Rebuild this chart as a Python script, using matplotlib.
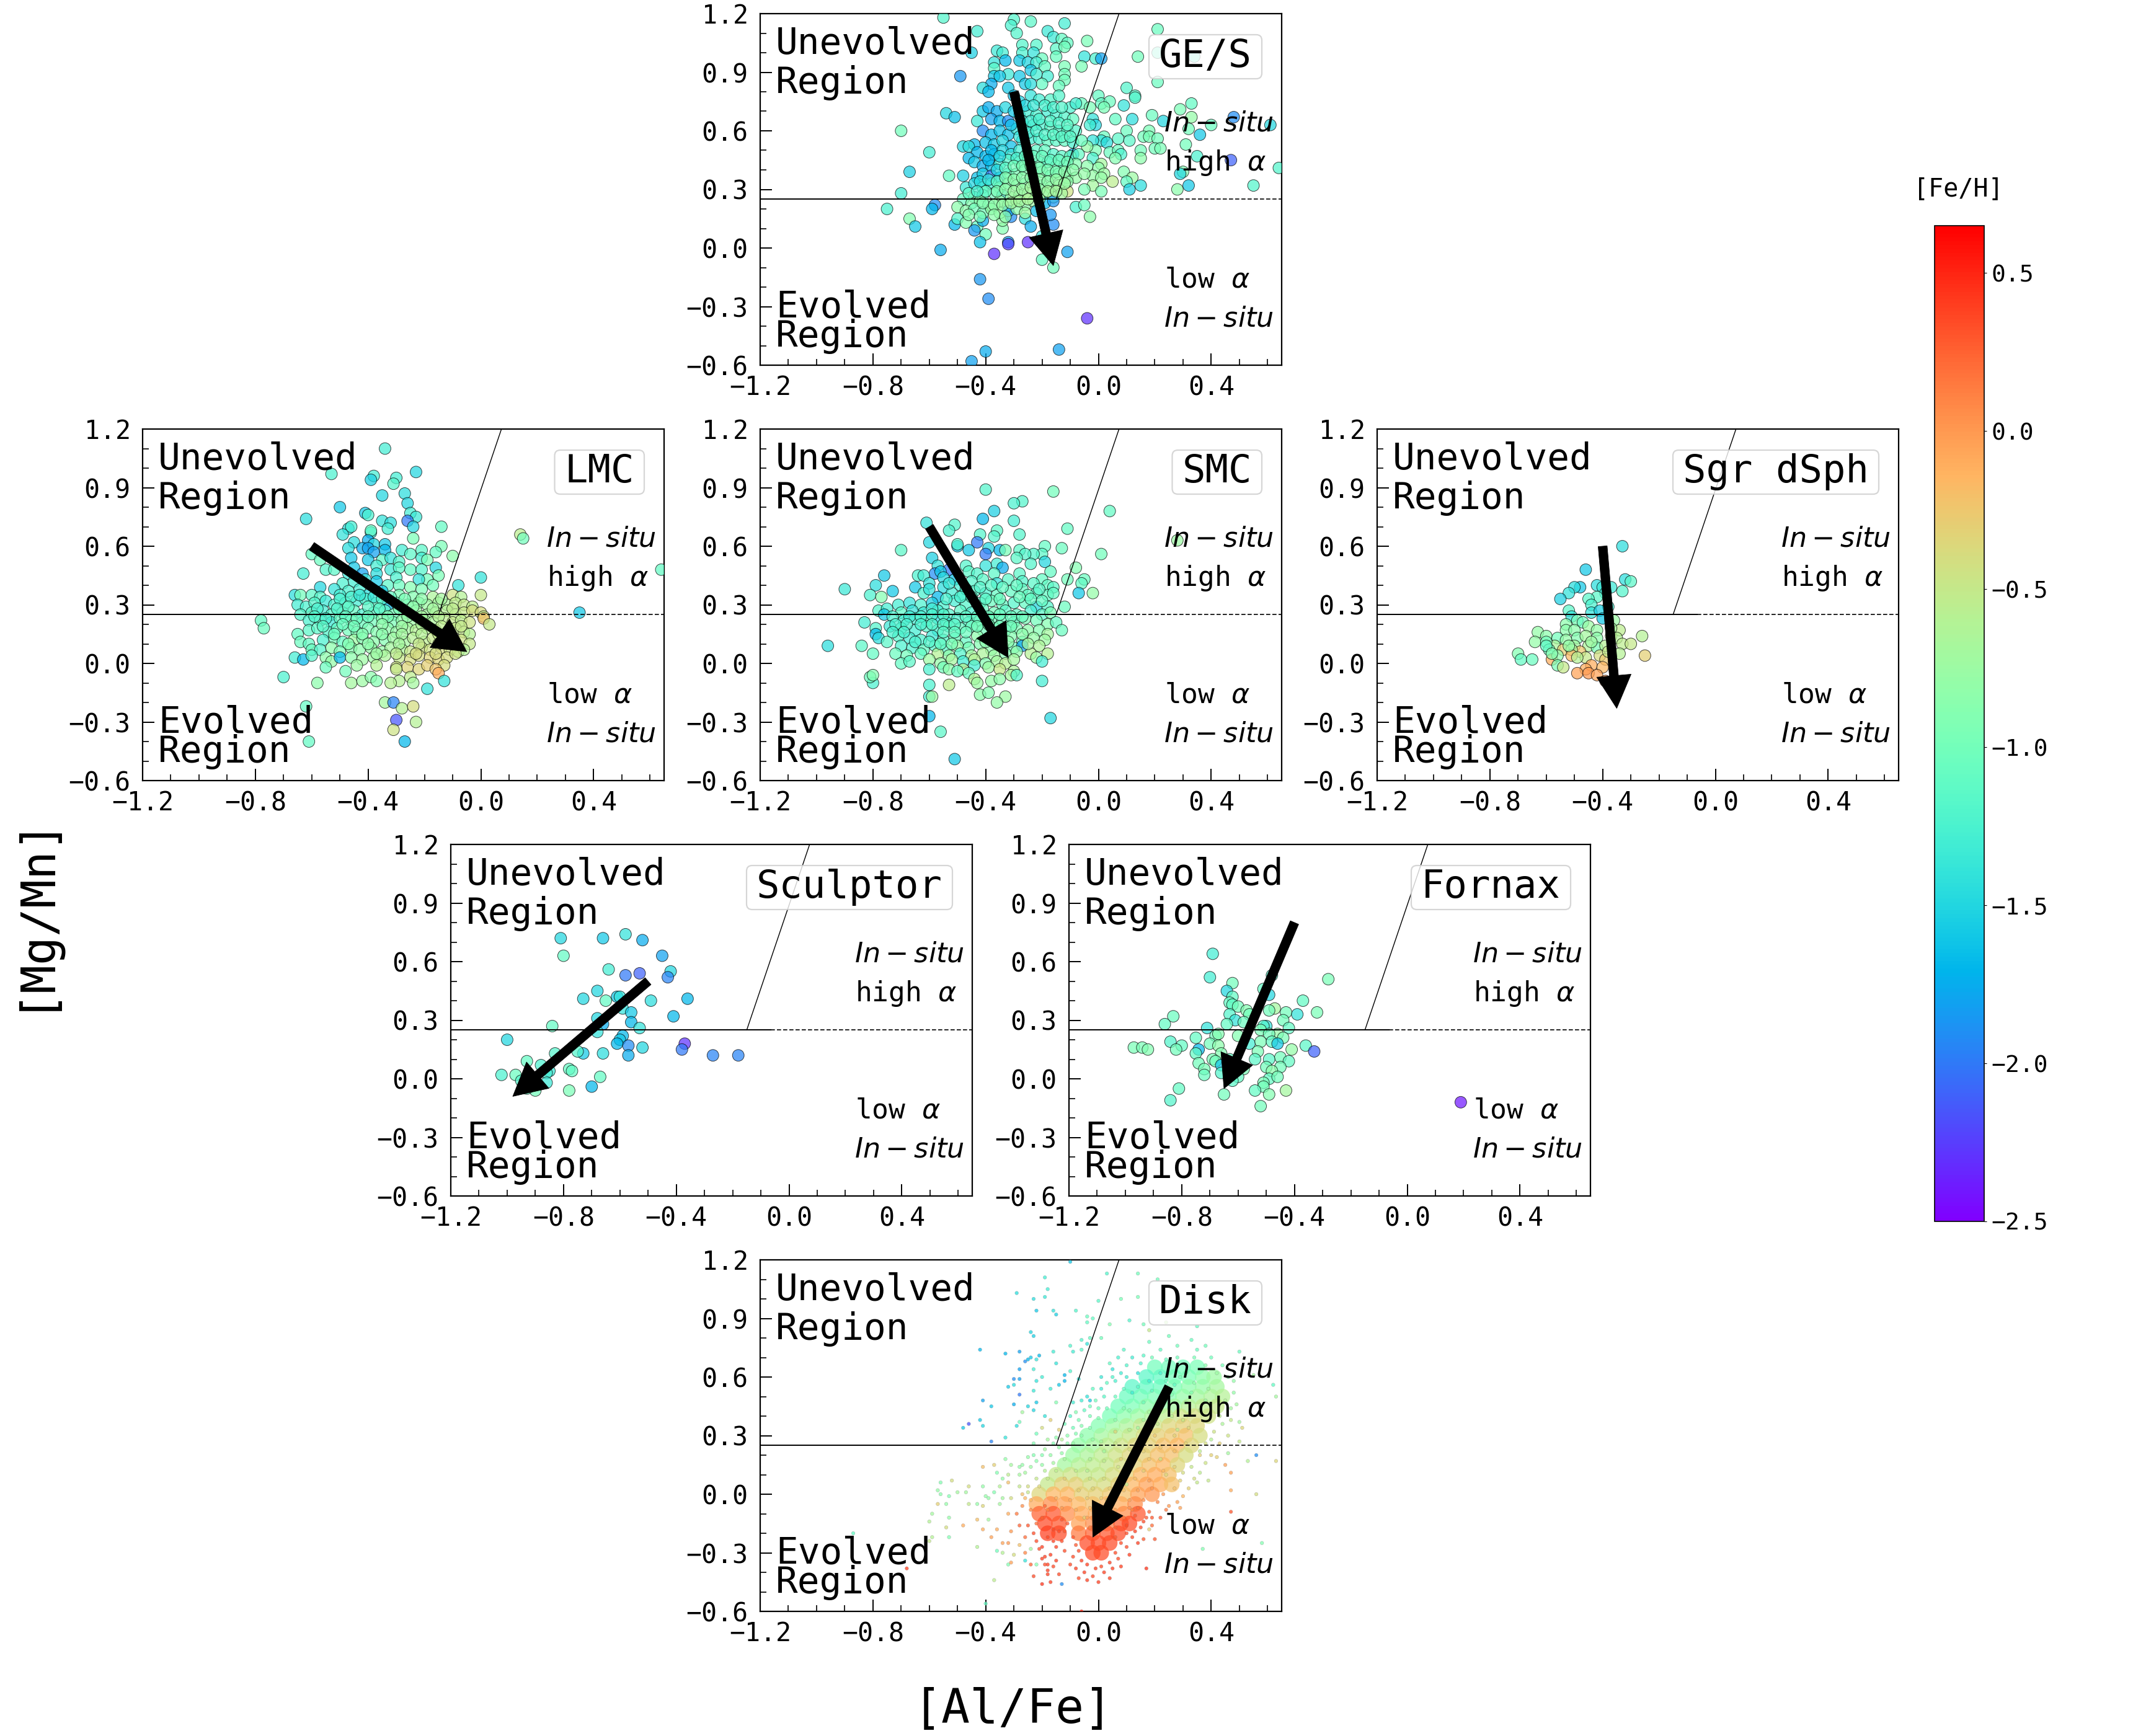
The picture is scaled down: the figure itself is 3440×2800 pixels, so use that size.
import numpy as np
import matplotlib
matplotlib.use('Agg')
import matplotlib.pyplot as plt
from matplotlib.ticker import MultipleLocator
from matplotlib.cm import ScalarMappable
from matplotlib.colors import Normalize
from matplotlib.patches import FancyBboxPatch
from matplotlib.transforms import IdentityTransform

plt.rcParams['font.family'] = ['DejaVu Sans Mono']
plt.rcParams['mathtext.fontset'] = 'dejavusans'

# every star: x=[Al/Fe], y=[Mg/Mn], z=[Fe/H], all in hundredths of a dex
ges = [
-55,118,-120, -30,117,-120, -24,116,-115, -31,114,-125, -12,115,-130, -43,111,-130, -29,110,-120, 21,112,-105,
-18,111,-135, -16,108,-135, -13,107,-110, -4,106,-95, -11,105,-110, -27,104,-120, -22,104,-120, -15,102,-115,
-12,103,-100, -36,101,-135, -34,100,-130, -45,100,-155, -27,100,-125, -23,100,-140, 21,100,-115, 34,98,-120,
14,98,-100, -5,98,-140, -1,97,-125, 1,97,-180, -15,98,-105, -20,97,-105, -37,95,-140, -33,96,-170, -28,96,-160,
-25,95,-150, -22,95,-130, -6,93,-95, -12,93,-95, -37,92,-115, -24,91,-160, -19,93,-110, -12,89,-100, -32,89,-135,
-49,88,-185, -37,88,-160, -35,88,-160, -28,88,-160, -18,88,-130, -22,89,-130, -12,86,-100, -20,84,-110, 21,85,-105,
-38,84,-175, -41,82,-145, -32,82,-160, -26,84,-160, -24,84,-145, -14,83,-105, 10,82,-120, -39,80,-170, 13,78,-115,
13,77,-120, 0,78,-110, 1,74,-110, 4,75,-105, 9,73,-140, 33,74,-110, 2,72,-95, -6,74,-105, -3,72,-95,
29,71,-95, -54,69,-150, -51,67,-165, 19,68,-105, 33,67,-80, 6,66,-110, 12,66,-145, 48,67,-190, 23,65,-150,
40,63,-105, 61,63,-150, -2,66,-140, -1,63,-150, -3,63,-130, -70,60,-100, 32,61,-100, 10,60,-105, 18,60,-95,
36,58,-160, 16,57,-100, 18,57,-95, 21,56,-100, 7,56,-115, 11,55,-115, 2,57,-105, 1,55,-140, 3,54,-145,
-2,55,-140, -60,49,-130, 31,53,-100, 20,51,-100, 22,51,-95, 4,49,-105, 7,50,-105, 8,48,-125, -1,50,-95,
-4,52,-80, 15,50,-100, 15,46,-85, 35,47,-125, 47,45,-210, 64,41,-120, 6,46,-90, -2,46,-125, 1,43,-70,
0,41,-85, -9,48,-170, -67,39,-155, 30,39,-90, 29,38,-150, 9,39,-90, 2,38,-75, 12,36,-75, -2,37,-80,
-53,37,-110, -48,37,-155, 5,34,-55, 1,36,-80, 10,34,-110, 15,32,-145, 55,32,-120, 32,32,-160, 28,30,-85,
-2,32,-70, -5,30,-95, 11,30,-155, 1,29,-95, -70,28,-130, -11,29,-45, -75,20,-125, -58,22,-190, -59,20,-170,
-67,15,-90, -65,11,-160, -51,12,-170, -50,15,-120, -47,13,-90, -43,11,-110, -41,14,-175, -44,9,-185, -40,7,-100,
-34,10,-90, -34,14,-80, -31,16,-190, -26,15,-145, -24,11,-175, -16,12,-190, -17,17,-185, -8,21,-125, -5,22,-105,
-3,16,-85, -42,3,-165, -32,3,-180, -32,2,-225, -25,3,-230, -56,-1,-175, -37,-3,-230, -20,6,-140, -11,-2,-180,
-20,-6,-110, -16,-10,-100, -42,-16,-185, -39,-26,-190, -4,-36,-230, -14,-52,-180, -40,-53,-175, -45,-58,-180,
-41,70,-160, -39,72,-175, -36,70,-175, -33,72,-150, -30,78,-165, -28,75,-155, -24,78,-140, -21,76,-130, -17,76,-120,
-14,78,-120, -10,72,-125, -8,74,-130, -38,66,-180, -35,65,-170, -32,65,-190, -28,68,-150, -25,70,-130, -22,68,-125,
-18,70,-130, -15,68,-125, -12,67,-120, -9,66,-110, -43,65,-135, -41,60,-190, -38,58,-170, -35,60,-165, -32,58,-165,
-29,61,-140, -26,62,-135, -23,63,-120, -20,63,-125, -17,62,-115, -14,60,-120, -11,60,-115, -8,60,-120, -44,53,-170,
-40,54,-165, -37,53,-160, -34,55,-150, -31,52,-165, -27,55,-135, -24,56,-130, -21,56,-125, -18,55,-110, -15,55,-115,
-12,55,-110, -9,54,-125, -6,55,-105, -48,52,-150, -46,52,-145, -43,49,-170, -40,47,-170, -37,48,-165, -34,50,-150,
-31,48,-140, -28,50,-130, -25,49,-120, -22,50,-115, -19,50,-110, -16,48,-120, -13,47,-115, -10,47,-105, -7,48,-110,
-46,46,-170, -44,44,-160, -41,42,-175, -38,42,-165, -35,43,-130, -32,45,-120, -28,44,-100, -25,45,-95, -21,44,-105,
-18,44,-115, -15,42,-100, -12,42,-105, -8,43,-90, -4,42,-85, -43,36,-165, -41,38,-155, -38,37,-200, -35,36,-165,
-32,38,-105, -29,38,-95, -26,40,-90, -23,38,-95, -20,39,-90, -17,37,-95, -14,38,-90, -11,36,-80, -8,36,-80, -5,38,-80,
-47,31,-135, -44,33,-150, -41,31,-120, -38,33,-130, -35,31,-95, -32,33,-90, -29,32,-85, -26,33,-90, -23,34,-85,
-20,32,-90, -17,31,-80, -14,32,-70, -11,34,-85, -44,26,-105, -41,27,-115, -37,28,-100, -34,27,-130, -31,26,-75,
-28,27,-80, -25,28,-70, -22,27,-80, -19,28,-85, -16,26,-75, -13,28,-70, -48,25,-105, -45,23,-90, -42,24,-85, -39,22,-90,
-35,24,-75, -32,22,-85, -29,24,-70, -26,22,-85, -23,24,-75, -19,23,-170, -16,24,-185, -50,21,-85, -47,19,-85,
-44,20,-100, -41,18,-100, -38,20,-80, -35,18,-75, -32,19,-180, -29,20,-85, -26,18,-75, -22,19,-165,
-26,73,-150, -23,73,-135, -19,73,-125, -16,72,-125, -13,72,-120, -30,70,-160, -27,65,-135, -24,65,-130, -21,66,-125,
-17,65,-120, -14,64,-120, -11,63,-115, -31,63,-165, -28,57,-140, -25,59,-130, -22,60,-125, -19,58,-120, -16,58,-115,
-13,57,-115, -10,57,-115, -38,50,-170, -35,47,-150, -29,46,-125, -26,47,-110, -23,47,-105, -20,47,-105, -17,45,-110,
-14,45,-105, -11,44,-100, -39,45,-170, -36,40,-150, -33,41,-115, -30,42,-100, -27,42,-95, -24,42,-90, -21,41,-95,
-18,40,-95, -15,39,-95, -12,39,-85, -9,40,-85, -42,34,-145, -39,35,-140, -36,34,-110, -33,36,-90, -30,35,-85, -27,36,-85,
-24,36,-85, -21,35,-85, -18,34,-85, -15,35,-80, -12,33,-75, -40,29,-110, -36,29,-95, -33,30,-85, -30,29,-75, -27,30,-75,
-24,31,-70, -21,30,-80, -18,29,-70, -15,29,-70, -46,28,-110, -43,29,-125, -41,23,-90, -37,22,-85, -34,22,-80, -31,23,-70,
-28,24,-70, -25,25,-65, -21,25,-75, -46,17,-90, -42,16,-95, -37,17,-85, -33,16,-85,
]

lmc = [
-34,110,-130, -53,97,-125, -23,98,-150, -38,96,-130, -39,94,-155, -30,95,-130, -31,92,-120, -27,87,-145, -35,86,-150,
-26,82,-150, -50,80,-160, -41,77,-160, -40,76,-125, -25,77,-130, -23,75,-135, -62,74,-145, -26,73,-200, -35,73,-140,
-32,72,-145, -33,69,-130, -24,70,-150, -14,70,-110, -47,69,-145, -46,70,-130, -49,66,-140, -39,67,-140, -39,68,-110,
-40,63,-175, -24,64,-95, 14,66,-55, 15,64,-100, -45,62,-145, -47,59,-145, -38,61,-150, -34,61,-160, -14,60,-95,
-42,59,-175, -34,58,-170, -40,59,-180, -38,57,-180, -60,56,-110, -28,58,-130, -25,56,-115, -21,58,-115, -16,57,-110,
-10,55,-85, -57,53,-105, -46,54,-160, -40,53,-160, -35,53,-115, -32,54,-140, -21,54,-130, -19,53,-95, -29,52,-120,
-16,49,-150, -25,48,-110, -21,48,-120, -55,48,-120, -52,48,-115, -45,49,-160, -37,50,-130, -32,48,-135, -29,49,-115,
-63,46,-130, -42,46,-180, -47,46,-135, -37,46,-145, -30,44,-125, -19,43,-100, -15,45,-95, 0,44,-140, -22,43,-140,
-41,43,-140, -45,42,-130, -49,41,-125, -37,42,-160, -33,40,-115, -29,40,-105, -25,39,-90, -17,40,-100, -57,39,-150,
-8,40,-140, -52,38,-140, -43,38,-130, -35,37,-160, -47,37,-125, -21,38,-95,
-66,35,-145, -64,35,-100, -60,35,-115, -57,34,-120, -50,35,-130, -40,35,-145, -29,35,-95, -24,34,-90, -17,34,-65,
-10,35,-45, 0,35,-50, -7,34,-60, -65,30,-130, -62,29,-125, -59,31,-120, -55,32,-135, -52,30,-125, -48,31,-120,
-44,32,-130, -41,33,-125, -37,31,-115, -33,30,-170, -30,31,-110, -26,30,-90, -22,31,-85, -19,30,-75, -15,31,-70,
-12,30,-65, -9,31,-55, -6,30,-50, -3,29,-55, -64,25,-120, -60,26,-115, -56,27,-130, -53,25,-120, -49,26,-115,
-45,27,-110, -42,25,-125, -38,26,-115, -34,27,-110, -31,25,-100, -27,26,-90, -23,27,-75, -19,25,-70, -16,26,-60,
-12,27,-60, -9,25,-55, -6,26,-50, -3,27,-40, 0,26,-40, 1,24,-50, 1,23,-20, -78,22,-110, -77,18,-105,
-61,22,-125, -57,22,-120, -53,21,-135, -50,23,-110, -46,22,-100, -42,21,-105, -38,22,-100, -35,23,-90, -31,21,-95,
-28,22,-85, -24,21,-75, -20,22,-70, -17,21,-65, -13,23,-55, -10,21,-50, -7,22,-55, -4,21,-45, 3,20,-50,
-65,15,-110, -61,17,-115, -58,18,-115, -54,16,-120, -51,18,-110, -47,17,-100, -44,16,-95, -40,18,-95, -37,16,-90,
-33,18,-85, -30,16,-80, -26,18,-70, -23,17,-60, -19,18,-60, -16,17,-55, -12,16,-50, -9,18,-50, -6,16,-50, -4,15,-60,
-64,11,-105, -61,10,-110, -56,12,-125, -52,13,-100, -49,11,-110, -45,12,-75, -42,13,-90, -38,11,-85, -34,12,-90,
-31,13,-75, -27,11,-70, -24,13,-60, -20,11,-55, -17,13,-50, -13,12,-45, -10,11,-50, -7,12,-45, -4,10,-50,
-60,7,-105, -57,7,-120, -53,8,-85, -50,6,-95, -46,8,-90, -43,7,-85, -39,8,-80, -35,6,-80, -32,8,-70, -28,7,-65,
-25,6,-50, -21,8,-45, -18,7,-45, -14,8,-40, -11,7,-45, -8,6,-55, -6,7,-60,
-66,3,-130, -63,2,-170, -60,4,-120, -55,3,-85, -53,1,-80, -50,3,-170, -46,3,-85, -42,2,-75, -38,3,-75, -34,4,-65,
-29,3,-50, -25,2,-40, -22,4,-40, -18,3,-35, -15,2,-35, -12,3,-40,
-55,-2,-105, -48,-4,-100, -44,-1,-75, -37,-1,-60, -30,-2,-45, -26,-2,-35, -22,-3,-35, -19,-1,-30, -13,-1,-40,
-30,-3,-50, -16,-3,-25, -70,-7,-125, -58,-10,-85, -46,-10,-70, -42,-9,-75, -39,-7,-85, -37,-9,-90, -29,-9,-60,
-25,-7,-55, -24,-10,-70, -15,-5,-10, -13,-9,-140, -19,-13,-140, -32,-10,-60, -34,-20,-70, -31,-20,-195, -28,-23,-60,
-24,-22,-40, -62,-22,-110, -30,-29,-215, -31,-34,-45, -27,-40,-170, -61,-40,-110, -23,-30,-60, 35,26,-160, 64,48,-110,
-50,33,-125, -46,34,-125, -43,35,-135, -38,34,-135, -35,33,-120, -32,34,-110, -27,33,-95, -21,33,-85, -14,33,-70,
-58,28,-125, -51,28,-120, -47,29,-115, -40,29,-115, -36,28,-115, -29,28,-95, -24,29,-85, -17,28,-70, -10,28,-55,
-59,24,-120, -55,23,-125, -48,24,-110, -44,23,-105, -40,24,-105, -33,24,-95, -26,24,-80, -21,24,-70, -15,24,-60,
-56,19,-115, -49,20,-105, -45,19,-100, -35,20,-85, -28,19,-75, -21,20,-65, -14,19,-55, -7,19,-50, -52,15,-105,
-42,15,-90, -35,15,-85, -28,15,-70, -21,15,-60, -15,15,-50, -47,10,-90, -40,10,-85, -29,10,-70, -22,10,-50, -15,10,-45,
-37,5,-75, -30,5,-55, -23,5,-40, -16,5,-40, -9,5,-45,
]

smc = [
-40,89,-120, -16,88,-100, -27,83,-120, -30,82,-125, -37,78,-155, 4,78,-110, -41,74,-170, -30,73,-130, -61,72,-140,
-51,71,-120, -53,68,-125, -36,68,-115, -11,69,-110, -42,66,-120, -37,65,-120, -28,66,-120, -43,62,-200, -60,62,-150,
28,63,-75, -50,60,-165, -50,61,-120, -46,58,-160, -13,59,-105, -19,60,-110, -39,59,-150, -35,58,-170, -33,58,-95,
-70,58,-115, -28,58,-115, -40,56,-200, -20,56,-115, -23,56,-120, -26,56,-120, 1,56,-100, -59,54,-155, -29,54,-115,
-19,52,-150, -24,51,-120, -36,51,-130, -34,49,-175, -8,49,-90, -47,50,-120, -57,50,-140, -40,50,-140, -53,48,-200,
-46,47,-115, -58,46,-190, -56,47,-160, -43,46,-120, -17,47,-110, -76,45,-160, -64,45,-125, -62,45,-130, -55,44,-150,
-51,43,-165, -37,46,-115, -28,46,-115, -20,43,-110, -11,43,-100, -5,43,-105, -6,41,-110,
-90,38,-135, -79,40,-145, -73,37,-160, -65,39,-160, -60,41,-140, -55,39,-145, -49,40,-130, -45,42,-120, -41,43,-115,
-36,41,-140, -32,43,-115, -27,42,-120, -23,41,-115, -18,40,-110, -16,39,-115, -81,35,-125, -77,34,-90, -62,36,-125,
-57,34,-170, -52,36,-130, -48,35,-125, -44,37,-120, -40,36,-125, -36,35,-110, -31,37,-110, -27,38,-110, -22,36,-115,
-18,35,-110, -16,36,-110, -7,36,-160, -2,36,-80, -71,30,-130, -67,31,-140, -63,30,-125, -59,31,-155, -55,29,-125,
-51,32,-130, -47,30,-120, -42,31,-120, -38,32,-105, -34,30,-110, -30,31,-120, -26,31,-110, -22,29,-150, -18,29,-120,
-12,29,-105, -78,27,-120, -75,28,-130, -70,26,-115, -66,27,-140, -62,26,-135, -57,27,-130, -53,25,-120, -49,27,-115,
-45,26,-125, -41,28,-110, -37,26,-100, -33,27,-115, -29,25,-110, -24,27,-125, -20,25,-115, -17,26,-95,
-76,25,-160, -73,24,-125, -69,22,-130, -65,23,-130, -61,22,-115, -57,23,-145, -54,21,-135, -50,23,-125, -46,21,-120,
-42,22,-105, -38,23,-100, -34,22,-105, -30,21,-110, -26,23,-95, -22,22,-100, -18,20,-90, -15,21,-110, -83,21,-130,
-79,18,-120, -74,19,-135, -70,18,-115, -65,17,-130, -61,19,-120, -57,17,-125, -53,19,-115, -49,18,-110, -45,19,-105,
-41,17,-100, -37,18,-95, -33,17,-110, -29,18,-95, -25,17,-85, -21,17,-90, -18,15,-70, -13,17,-105, -79,15,-170,
-78,13,-145, -75,11,-115, -71,14,-120, -67,13,-130, -63,12,-125, -59,14,-135, -55,12,-120, -51,13,-105, -47,11,-110,
-43,14,-85, -39,13,-90, -35,12,-100, -31,14,-90, -27,11,-110, -23,13,-80, -19,12,-75, -70,9,-125, -66,8,-125,
-62,7,-110, -58,9,-120, -54,7,-115, -50,9,-80, -46,8,-95, -42,10,-90, -38,7,-85, -34,9,-85, -30,8,-100, -27,9,-180,
-21,9,-65, -96,9,-145, -84,9,-115, -80,5,-110, -72,5,-105, -68,4,-100, -63,5,-110, -57,5,-60, -53,4,-80, -49,5,-120,
-45,4,-70, -41,5,-65, -37,4,-75, -33,5,-90, -29,6,-85, -24,5,-60, -18,5,-60, -70,0,-110, -67,1,-115, -60,2,-75,
-56,0,-80, -52,2,-70, -48,1,-130, -44,2,-60, -40,0,-90, -36,1,-70, -33,0,-60, -30,2,-70, -22,3,-75, -20,1,-130,
-60,-3,-125, -55,-2,-100, -53,-3,-85, -48,-3,-60, -44,-1,-130, -39,-2,-75, -35,-3,-50, -30,-4,-65, -50,-4,-110,
-46,-5,-110, -44,-8,-60, -43,-10,-75, -38,-9,-80, -35,-8,-85, -31,-6,-70, -29,-6,-120, -20,-9,-130, -80,-10,-125,
-81,-7,-105, -80,-6,-90, -60,-11,-125, -53,-11,-55, -60,-17,-130, -59,-17,-75, -42,-16,-85, -39,-15,-90, -33,-17,-75,
-36,-20,-80, -60,-27,-170, -17,-28,-150, -56,-35,-115, -51,-49,-160,
-60,38,-140, -53,41,-135, -47,38,-125, -42,39,-120, -38,40,-115, -34,39,-110, -29,40,-110, -25,35,-110, -21,38,-115,
-59,28,-130, -54,33,-125, -49,34,-125, -45,34,-115, -40,33,-115, -35,33,-105, -28,34,-105, -24,33,-110, -20,32,-110,
-67,24,-130, -63,24,-125, -59,25,-125, -55,25,-120, -47,24,-115, -43,24,-110, -39,24,-105, -35,25,-105, -31,24,-105,
-27,24,-105, -72,20,-125, -68,20,-125, -63,20,-125, -59,20,-120, -55,20,-115, -51,20,-115, -47,16,-105, -43,19,-100,
-39,20,-100, -35,19,-100, -31,19,-100, -73,16,-125, -69,16,-125, -55,16,-115, -51,16,-110, -35,15,-90, -27,15,-85,
-65,11,-125, -60,11,-120, -56,10,-110, -52,10,-95, -40,11,-85, -32,11,-85, -25,10,-70,
]

sgr = [
-33,60,-145, -46,48,-160, -32,43,-145, -30,42,-115, -42,40,-145, -48,39,-160, -50,39,-145, -37,39,-135, -40,39,-135,
-52,36,-140, -55,33,-155, -33,37,-120, -39,36,-135, -42,34,-115, -45,33,-115, -44,30,-125, -38,29,-130, -52,27,-115,
-51,24,-140, -44,26,-140, -41,27,-155, -40,23,-160, -36,22,-75, -49,22,-95, -47,21,-105, -53,20,-85, -45,19,-75,
-53,17,-85, -50,17,-85, -42,17,-80, -34,17,-55, -63,16,-80, -60,14,-85, -26,14,-60, -64,11,-80, -49,13,-90, -42,13,-85,
-56,13,-100, -53,12,-80, -46,14,-70, -37,14,-55, -35,13,-60, -57,9,-65, -60,11,-100, -50,9,-70, -45,9,-65, -42,8,-95,
-33,10,-55, -30,10,-50, -54,7,-30, -59,7,-105, -48,6,-25, -51,7,-65, -39,9,-60, -34,5,-60, -70,5,-90, -69,2,-110,
-65,2,-105, -58,2,-10, -56,4,-85, -51,4,-15, -46,3,-50, -41,4,-40, -39,2,-25, -25,4,-30, -56,-1,-95, -54,-2,-50,
-44,-1,-10, -46,-3,-10, -40,-2,-15, -49,-5,-5, -45,-5,0, -42,-6,-5, -39,-9,0, -60,9,-110, -58,5,-90, -52,9,-80,
-44,11,-75, -38,6,-50, -49,3,-60, -37,18,-70,
]

sculptor = [
-81,72,-150, -80,63,-110, -66,72,-160, -58,74,-140, -52,71,-175, -45,63,-180, -42,55,-150, -43,52,-195, -64,56,-130,
-58,53,-200, -53,54,-210, -68,45,-150, -73,41,-150, -61,42,-160, -60,42,-140, -65,40,-110, -49,40,-145, -36,41,-170,
-59,36,-140, -56,34,-160, -41,32,-170, -68,31,-150, -56,29,-170, -66,28,-175, -53,26,-140, -84,27,-110, -68,24,-140,
-100,20,-150, -59,22,-170, -60,20,-160, -37,18,-230, -38,15,-200, -57,17,-190, -61,18,-170, -52,16,-150, -57,12,-175,
-73,13,-160, -75,14,-120, -66,13,-145, -27,12,-195, -18,12,-195, -83,13,-120, -93,9,-110, -88,7,-125, -85,4,-135,
-86,3,-130, -78,5,-110, -77,4,-110, -102,2,-125, -97,2,-105, -67,1,-110, -70,-4,-170, -78,-6,-95, -90,-6,-100,
-86,-2,-135, -95,-1,-120, -93,-5,-110,
]

fornax = [
-69,64,-130, -70,52,-130, -62,49,-100, -48,53,-120, -51,46,-110, -49,43,-150, -64,45,-150, -62,42,-110, -28,51,-95,
-37,40,-110, -63,39,-110, -62,38,-110, -60,37,-100, -47,36,-70, -49,35,-100, -57,35,-90, -56,33,-100, -63,33,-120,
-61,30,-140, -43,34,-100, -39,33,-140, -32,34,-95, -44,30,-100, -83,32,-105, -86,28,-110, -64,28,-110, -58,29,-105,
-71,26,-140, -50,27,-140, -51,27,-120, -42,26,-110, -52,25,-95, -68,22,-100, -67,23,-90, -60,22,-90, -46,23,-80,
-49,23,-100, -44,21,-95, -75,21,-110, -84,19,-120, -80,17,-110, -82,15,-100, -97,16,-95, -94,16,-95, -92,15,-90,
-70,18,-100, -67,17,-85, -74,15,-170, -56,18,-130, -52,19,-95, -48,19,-110, -46,18,-160, -36,17,-115, -33,14,-210,
-41,15,-80, -75,13,-110, -66,13,-90, -53,14,-95, -45,11,-100, -54,10,-115, -42,9,-110, -49,10,-115, -69,10,-95,
-74,8,-100, -68,9,-100, -63,10,-110, -66,7,-160, -72,5,-95, -58,5,-95, -50,6,-100, -45,6,-100, -72,2,-105, -66,3,-120,
-60,1,-110, -62,-1,-115, -48,4,-85, -49,0,-110, -46,1,-100, -51,-2,-95, -51,-4,-100, -81,-5,-110, -54,-6,-110,
-43,-6,-70, -49,-8,-90, -65,-8,-100, -84,-11,-120, -52,-14,-100, 19,-12,-240,
]

# dense part of the disk, read as [Fe/H] per small patch of the plane
disk_core = [
20,65,-100, 25,65,-100, 30,65,-100, 35,65,-95,
17,60,-115, 22,60,-110, 27,60,-100, 32,60,-95, 37,60,-85, 41,60,-75,
12,55,-115, 17,55,-110, 22,55,-105, 27,55,-95, 32,55,-85, 37,55,-80, 42,55,-70,
10,50,-105, 15,50,-100, 20,50,-95, 25,50,-90, 30,50,-80, 35,50,-70, 40,50,-65, 44,50,-60,
7,45,-100, 12,45,-95, 17,45,-85, 22,45,-80, 27,45,-70, 32,45,-60, 37,45,-55, 42,45,-50,
4,40,-95, 9,40,-85, 14,40,-75, 19,40,-65, 24,40,-55, 29,40,-45, 34,40,-40, 39,40,-45,
0,35,-90, 5,35,-75, 10,35,-65, 15,35,-50, 20,35,-45, 25,35,-35, 30,35,-30, 35,35,-35,
-4,30,-85, 1,30,-70, 6,30,-60, 11,30,-50, 16,30,-40, 21,30,-30, 26,30,-25, 31,30,-20, 36,30,-40,
-7,25,-80, -2,25,-70, 3,25,-55, 8,25,-45, 13,25,-35, 18,25,-30, 23,25,-20, 28,25,-15, 33,25,-35,
-9,20,-75, -4,20,-65, 1,20,-55, 6,20,-45, 11,20,-35, 16,20,-30, 21,20,-20, 26,20,-20, 31,20,-40,
-12,15,-70, -7,15,-60, -2,15,-55, 3,15,-50, 8,15,-40, 13,15,-30, 18,15,-20, 23,15,-15, 28,15,-35,
-15,10,-50, -10,10,-45, -5,10,-50, 0,10,-50, 5,10,-40, 10,10,-30, 15,10,-15, 20,10,-10, 25,10,-20,
-18,5,-50, -13,5,-30, -8,5,-30, -3,5,-40, 2,5,-40, 7,5,-30, 12,5,-15, 17,5,-5, 22,5,-10, 26,5,-20,
-21,0,-35, -16,0,-15, -11,0,-15, -6,0,-30, -1,0,-30, 4,0,-25, 9,0,-20, 14,0,-5, 19,0,0,
-22,-5,-10, -17,-5,5, -12,-5,-5, -7,-5,-15, -2,-5,-20, 3,-5,-15, 8,-5,-10, 13,-5,5,
-21,-10,25, -16,-10,30, -11,-10,5, -6,-10,-10, -1,-10,-10, 4,-10,-5, 9,-10,5, 14,-10,30,
-19,-15,35, -14,-15,30, -7,-15,-5, -2,-15,5, 3,-15,15, 8,-15,30, 11,-15,35,
-18,-20,40, -14,-20,35, -7,-20,15, -2,-20,25, 3,-20,30, 7,-20,35,
-4,-25,35, 0,-25,35, 4,-25,35,
-2,-30,35, 1,-30,35,
]

disk = [
-10,119,-160, -19,111,-130, 3,113,-120, 14,113,-100, -29,103,-145, -18,105,-130, -23,100,-145, -19,101,-135, 0,99,-115,
-22,94,-160, -16,94,-140, -15,92,-155, -8,94,-120, -4,91,-105, -2,90,-110, -4,88,-110, 8,100,-95, 14,101,-95, 21,110,-100,
4,87,-90, 11,89,-120, 16,87,-100, 18,84,-50, 24,88,-60, 35,86,-110, 32,94,-130, -24,83,-150, -23,81,-155, -3,80,-110,
-6,79,-120, -4,77,-140, 1,80,-100, -42,74,-170, -33,72,-170, -28,73,-180, -24,70,-160, -21,71,-170, -22,69,-140,
-26,68,-190, -25,69,-170, -16,73,-130, -10,76,-120, -9,73,-130, -6,74,-115, -15,67,-140, -28,64,-180, -23,64,-130,
-30,59,-190, -28,59,-180, -32,55,-160, -30,56,-145, -20,60,-130, -22,58,-140, -28,51,-200, -23,53,-135, -17,54,-130,
-14,56,-160, -12,58,-170, -12,61,-170, -10,63,-120, -7,59,-140, -4,50,-140, -3,48,-160, -9,47,-130, -41,48,-180,
-30,46,-175, -38,45,-160, -22,47,-160, -25,45,-150, -23,43,-150, -27,42,-70, -15,47,-90, -42,38,-160, -46,36,-215,
-48,34,-160, -41,35,-150, -29,35,-145, -28,37,-100, -19,40,-140, -17,38,-30, -33,29,-140, -38,27,-195, -22,31,-100,
-20,34,-40, -18,28,-70, -23,26,-90, -15,29,-85, -41,14,-20, -37,15,-30, -33,18,-80, -31,15,-70, -27,15,-80, -25,19,-80,
-23,20,-90, -20,15,-80, -36,11,-90, -32,10,-55, -28,10,-70, -34,8,-80, -56,6,-90, -52,7,-40, -32,6,-20, -35,4,-60,
-41,4,-80, -46,4,-40, -47,1,-70, -50,1,-70, -57,2,-80, -56,0,-85, -53,-1,-90, -37,1,-90, -40,-1,-80, -39,-2,-80,
-43,-5,-80, -41,-6,-35, -46,-5,-50, -54,-5,-80, -57,-5,-30, -59,-10,-70, -60,-14,-60, -53,-12,-80, -48,-16,-10,
-43,-13,-20, -39,-13,-70, -32,-10,-10, -35,-5,-70, -34,-2,-70, -28,4,-50, -26,-2,-15, -31,-2,-40, -54,-17,-40,
-41,-18,-10, -36,-18,-10, -53,-22,-90, -59,-22,-60, -60,-24,-50, -87,-20,-110, -34,-25,-5, -32,-25,0, -43,-27,-60,
-36,-29,-100, -32,-36,-90, -31,-35,-5, -26,-34,-140, -26,-30,10, -24,-36,25, -23,-42,35, -20,-46,45, -18,-36,40,
-19,-32,40, -18,-41,40, -13,-46,-190, -37,-44,-55, -68,-38,40, -40,-56,-110, -6,-60,50, 17,-38,45, 37,-28,-90,
58,-25,-90, 20,-23,30, 16,-23,30, 18,-18,-30, 25,-6,0, 29,-7,-5, 47,-9,30, 56,0,-40, 47,2,-10, 39,7,-50, 35,6,-50,
47,11,-5, 56,20,-190, 53,17,-60, 63,17,-35, 45,15,-5, 42,19,-30, 46,21,-70, 50,27,-50, 43,26,-30, 51,34,-35,
50,37,-70, 62,56,-110, 63,50,-70, 50,73,-105, 55,61,-70,
-16,-18,35, -13,-13,30, -20,-12,25, -24,-8,10, -18,-22,35, -15,-27,40, -20,-27,40, -17,-31,40, -19,-6,25, -14,-19,35,
-22,-15,20, -8,-38,40, -5,-40,40, -2,-42,35, 2,-40,40, 5,-38,40, 7,-33,35, 10,-27,35, 12,-22,35, 15,-17,35, 17,-12,30,
-9,-32,35, -8,-26,30, 18,-9,25, 21,-4,10, 23,0,0, 27,3,-20, 29,7,-30, 30,11,-40, 33,14,-50, 36,22,-55, 40,28,-60,
44,36,-65, 47,44,-70, 48,52,-80, 46,60,-85, 44,66,-95, 40,70,-100, 35,74,-105, 28,76,-100, 22,74,-110, 16,71,-115,
10,66,-120, 6,58,-125, 5,64,-140, 2,50,-115, 0,44,-100, -3,40,-95, -6,35,-90, -8,31,-90, -11,26,-85, -13,21,-80,
-16,16,-70, -19,12,-60, -22,8,-50, -25,4,-40, 12,70,-130, 18,78,-105, 25,81,-100, 33,79,-105, 38,76,-100,
14,62,-140, 18,58,-130, 22,62,-125, 27,56,-110, 31,62,-100, 12,52,-130, 16,47,-100, 25,44,-75, 30,38,-50, 20,30,-25,
14,22,-65, 8,18,-30, 2,22,-70, -4,12,-60, 10,5,-55, 3,-3,-30, 16,12,-30, 12,-8,10, -5,-12,-30, -1,-18,0, 6,-22,30,
33,52,-90, 38,48,-75, 28,33,-55, 22,18,-45, 6,32,-35, -2,28,-80, 18,42,-70, 9,44,-90, 14,34,-70, 24,10,-35,
-25,-16,30, -23,-20,35, -22,-24,35, -21,-28,35, -20,-33,40, -19,-36,35, -18,-39,40, -16,-24,40, -16,-37,35, -15,-34,40,
-13,-24,35, -12,-19,30, -11,-15,30, -9,-22,30, -7,-29,35, -6,-34,40, -4,-36,40, -1,-38,40, 1,-37,35, 4,-35,40, 6,-30,35,
8,-25,35, 10,-20,35, 13,-19,40, 16,-14,35, 19,-12,30, 14,-25,40, 11,-31,40, 8,-37,40, 4,-43,40, 0,-45,40, -4,-44,40,
-7,-43,35, -10,-36,35, -12,-29,35, -28,-16,25, -29,-10,15, -27,-6,5, -27,0,-20, -25,1,-50, -24,-3,-15, -31,-19,0,
-26,-22,20, -28,-26,-20, -30,-31,-40, -34,-30,-60, -38,-22,-5, -24,-28,-70, -22,-36,-90, -14,-41,35, -17,-45,40,
-28,14,-80, -26,11,-70, -24,14,-75, -22,17,-85, -20,20,-90, -19,23,-70, -16,26,-90, -17,20,-80, -14,24,-80, -13,28,-60,
-11,30,-85, -9,34,-100, -7,38,-95, -5,43,-110, -3,45,-100, -1,48,-100, 1,54,-130, 3,57,-110, 5,60,-120, 8,62,-130,
-10,40,-120, -12,36,-100, -14,33,-30, -8,42,-90, -6,48,-130, -2,54,-110, 1,60,-135, 4,67,-110, 7,70,-125, 9,74,-115,
40,20,-30, 38,16,-45, 36,11,-55, 34,8,-40, 32,3,-30, 30,-1,-15, 28,-4,-5, 24,-8,15, 22,-12,30, 19,-16,20, 36,20,-30,
38,26,-40, 41,32,-45, 43,40,-55, 45,48,-60, 47,38,-50, 46,30,-45, 49,46,-70, 48,58,-80, 42,62,-75, 38,66,-85, 34,70,-95,
28,70,-100, 24,69,-105, 19,70,-100, 15,67,-120, 10,60,-130, 9,54,-110, 6,50,-105, 3,44,-100, 0,39,-90, -3,34,-90,
-6,30,-85, -9,26,-80, -12,18,-70, -15,12,-55, -18,8,-50, -21,4,-35, 14,55,-115, 19,53,-110, 24,58,-105, 29,60,-95,
34,57,-85, 39,54,-75, 26,51,-90, 31,47,-70, 36,43,-55, 21,46,-85, 26,40,-55, 11,43,-85, 16,38,-70, 21,36,-50, 27,30,-30,
32,34,-35, 6,38,-85, 11,33,-60, 16,27,-45, 22,24,-25, 27,22,-20, 31,26,-30, 1,27,-70, 6,26,-50, 11,23,-40, 16,22,-30,
-3,18,-65, 2,17,-55, 7,14,-45, 12,18,-35, 18,18,-25, 23,12,-15, 27,14,-30, -8,12,-55, -3,8,-50, 2,8,-40, 8,8,-35, 13,8,-20,
18,7,-5, -12,8,-30, -7,2,-30, -2,3,-35, 4,3,-30, 9,2,-20, 14,2,-5, 19,3,0, -15,-2,-10, -10,-3,-10, -4,-2,-25, 1,-2,-25,
6,-3,-15, 11,-3,-5, 16,-3,5, -18,-8,10, -13,-7,0, -8,-8,-10, -3,-7,-15, 2,-8,-10, 6,-8,-5, 11,-7,5, 14,-7,20, -4,-12,-5,
0,-13,-5, 5,-13,5, 9,-12,15, 13,-11,30, -3,-17,10, 2,-17,15, 6,-17,25, 10,-16,35,
]

panels = [
    ('GE/S', ges, 1226, 22, (-30, 80, -16, -9)),
    ('LMC', lmc, 230, 692, (-60, 60, -5, 6)),
    ('SMC', smc, 1226, 692, (-60, 70, -32, 3)),
    ('Sgr dSph', sgr, 2221, 692, (-40, 60, -35, -23)),
    ('Sculptor', sculptor, 727, 1362, (-50, 50, -98, -9)),
    ('Fornax', fornax, 1724, 1362, (-40, 80, -65, -5)),
    ('Disk', None, 1226, 2032, (25, 55, -2, -22)),
]
x_ticks = [-1.2, -0.8, -0.4, 0.0, 0.4]
y_ticks = [-0.6, -0.3, 0.0, 0.3, 0.6, 0.9, 1.2]
cbar_ticks = [-2.5, -2.0, -1.5, -1.0, -0.5, 0.0, 0.5]

W, H = 3441, 2800
fig = plt.figure(figsize=(W/200, H/200), dpi=200)
norm = Normalize(-2.5, 0.65)
cmap = 'rainbow'
AW, AH = 841, 567


def stars(values):
    return np.array(values, dtype=float).reshape(-1, 3) / 100


for name, pts, left, top, arrow in panels:
    ax = fig.add_axes([left/W, 1-(top+AH)/H, AW/W, AH/H])
    ax.set_xlim(-1.2, 0.65)
    ax.set_ylim(-0.6, 1.2)
    if pts is None:
        c = stars(disk_core)
        ax.scatter(c[:, 0], c[:, 1], c=c[:, 2], cmap=cmap, norm=norm, s=82, alpha=0.72, linewidths=0, zorder=2)
        d = stars(disk)
        ax.scatter(d[:, 0], d[:, 1], c=d[:, 2], cmap=cmap, norm=norm, s=4.2, alpha=0.75, linewidths=0.1,
                   edgecolors='#666666', zorder=3)
    else:
        d = stars(pts)
        ax.scatter(d[:, 0], d[:, 1], c=d[:, 2], cmap=cmap, norm=norm, s=46, alpha=0.72, linewidths=0.35,
                   edgecolors='k', zorder=3)
    ax.plot([-1.2, -0.065], [0.25, 0.25], color='k', lw=0.7, zorder=4)
    ax.plot([-0.065, 0.65], [0.25, 0.25], color='k', lw=0.6, ls=(0, (4, 2)), zorder=4)
    ax.plot([-0.15, 0.073], [0.25, 1.2], color='k', lw=0.5, zorder=4)
    ax.annotate('', xy=(arrow[2]/100, arrow[3]/100), xytext=(arrow[0]/100, arrow[1]/100),
                arrowprops=dict(facecolor='k', edgecolor='k', width=5.2, headwidth=20, headlength=19, shrink=0, lw=0.3),
                zorder=6)
    ax.set_xticks(x_ticks)
    ax.set_yticks(y_ticks)
    ax.set_xticklabels(['\u22121.2', '\u22120.8', '\u22120.4', '0.0', '0.4'])
    ax.set_yticklabels(['\u22120.6', '\u22120.3', '0.0', '0.3', '0.6', '0.9', '1.2'])
    ax.xaxis.set_minor_locator(MultipleLocator(0.1))
    ax.yaxis.set_minor_locator(MultipleLocator(0.1))
    ax.tick_params(which='major', direction='in', length=7, width=0.7, labelsize=15, top=False, right=False)
    ax.tick_params(which='minor', direction='in', length=3.5, width=0.6, top=False, right=False)
    ax.tick_params(axis='x', which='major', pad=5.5)
    ax.tick_params(axis='y', which='major', pad=7)
    for s in ax.spines.values():
        s.set_linewidth(0.8)
    big = dict(fontsize=21.4, va='baseline', ha='left', zorder=7)
    small = dict(fontsize=16, va='baseline', ha='left', zorder=7)
    ax.text(-1.145, 0.995, 'Unevolved', **big)
    ax.text(-1.145, 0.795, 'Region', **big)
    ax.text(-1.145, -0.355, 'Evolved', **big)
    ax.text(-1.145, -0.505, 'Region', **big)
    ax.text(0.232, 0.597, r'$\mathit{In-situ}$', **small)
    ax.text(0.235, 0.397, r'high $\alpha$', **small)
    ax.text(0.235, -0.203, r'low $\alpha$', **small)
    ax.text(0.232, -0.403, r'$\mathit{In-situ}$', **small)
    # name tag: same height on every panel, width follows the name
    bw = len(name) * 37.5 + 32
    bx1 = left + AW - 32
    by2 = H - (top + 34)
    ax.add_patch(FancyBboxPatch((bx1 - bw, by2 - 71), bw, 71, boxstyle='round,pad=0,rounding_size=9',
                                transform=IdentityTransform(), fc=(1, 1, 1, 0.8), ec=(0.8, 0.8, 0.8, 0.8),
                                lw=0.8, zorder=5, clip_on=False))
    ax.text(bx1 - bw/2, by2 - 52, name, transform=IdentityTransform(), fontsize=22.4, ha='center',
            va='baseline', zorder=7)

cax = fig.add_axes([3120/W, 1-1970/H, 80/W, (1970-364)/H])
cb = fig.colorbar(ScalarMappable(norm=norm, cmap=cmap), cax=cax)
cb.set_ticks(cbar_ticks)
cb.set_ticklabels(['\u22122.5', '\u22122.0', '\u22121.5', '\u22121.0', '\u22120.5', '0.0', '0.5'])
cax.tick_params(labelsize=13.7, length=1.5, width=0.4, pad=2.5)
cb.outline.set_linewidth(0.6)

fig.text(3158/W, 1-317/H, '[Fe/H]', fontsize=14.4, ha='center', va='baseline')
fig.text(1634/W, 1-2779/H, '[Al/Fe]', fontsize=27.5, ha='center', va='baseline')
fig.text(52/W, 1-1469/H, '[Mg/Mn]', fontsize=27.5, ha='center', va='center', rotation=90)

fig.savefig('out.png', dpi=200, facecolor='white')
